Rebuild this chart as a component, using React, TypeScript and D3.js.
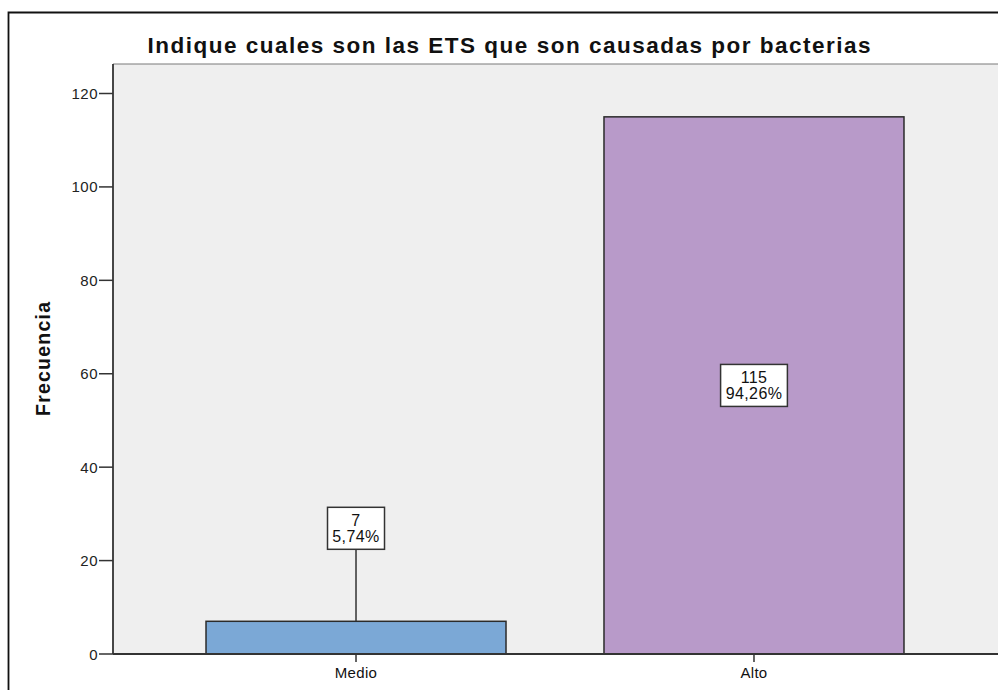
import React from "react";
import * as d3 from "d3";

const categories = ["Medio", "Alto"];
const frequencies = [7, 115];
const percentLabels = ["5,74%", "94,26%"];
const barColors = ["#7BA8D6", "#B89AC9"];
const yTicks = [0, 20, 40, 60, 80, 100, 120];
const titleText = "Indique cuales son las ETS que son causadas por bacterias";
const yAxisTitle = "Frecuencia";

const W = 998;
const H = 690;
const plotLeft = 113;
const plotRight = 997;
const plotTop = 64;
const plotBottom = 654;

export default function App() {
  const x = d3
    .scaleBand<string>()
    .domain(categories)
    .range([plotLeft, plotRight])
    .paddingInner(0.2462)
    .paddingOuter(0.2337);
  const y = d3.scaleLinear().domain([0, 120]).range([plotBottom, 93.5]);
  const font = "Arial, 'Liberation Sans', Helvetica, sans-serif";
  const axisColor = "#333333";

  return (
    <div style={{ position: "fixed", left: 0, top: 0, width: W, height: H, overflow: "hidden", background: "#fff" }}>
      <svg width={W} height={H} style={{ display: "block" }} fontFamily={font}>
        {/* outer frame (top and left visible) */}
        <path d={`M8.5,${H} V12.5 H${W}`} fill="none" stroke="#111" strokeWidth={1.8} />
        {/* title */}
        <text
          x={509}
          y={53}
          textAnchor="middle"
          fontSize={22.5}
          fontWeight="bold"
          fill="#111"
          textLength={723}
          lengthAdjust="spacing"
        >
          {titleText}
        </text>
        {/* plot background */}
        <rect x={plotLeft} y={plotTop} width={W - plotLeft} height={plotBottom - plotTop} fill="#EFEFEF" />
        <line x1={plotLeft} x2={W} y1={plotTop} y2={plotTop} stroke="#7a7a7a" strokeWidth={1.2} />
        {/* y axis title */}
        <text
          transform={`translate(50,359) rotate(-90)`}
          textAnchor="middle"
          fontSize={19.5}
          fontWeight="bold"
          fill="#111"
          textLength={114}
          lengthAdjust="spacing"
        >
          {yAxisTitle}
        </text>
        {/* y ticks */}
        {yTicks.map((t) => (
          <g key={t}>
            <line x1={99} x2={plotLeft} y1={y(t)} y2={y(t)} stroke={axisColor} strokeWidth={1.5} />
            <text x={98} y={y(t) + 5.5} textAnchor="end" fontSize={15} fill="#222" letterSpacing={0.5}>
              {t}
            </text>
          </g>
        ))}
        {/* bars */}
        {categories.map((c, i) => {
          const bx = x(c)!;
          const bw = x.bandwidth();
          const top = y(frequencies[i]);
          const cx = bx + bw / 2;
          const barH = plotBottom - top;
          const boxH = 42;
          const small = barH < boxH + 10;
          const cy = small ? top - 93 : (top + plotBottom) / 2;
          const boxW = Math.max(percentLabels[i].length, String(frequencies[i]).length) * 9.8 + 8;
          return (
            <g key={c}>
              <rect x={bx} y={top} width={bw} height={barH} fill={barColors[i]} stroke="#2b2b2b" strokeWidth={1.5} />
              {small && (
                <line x1={cx} x2={cx} y1={cy + boxH / 2} y2={top} stroke="#333" strokeWidth={1.5} />
              )}
              <rect
                x={cx - boxW / 2}
                y={cy - boxH / 2}
                width={boxW}
                height={boxH}
                fill="#fff"
                stroke="#333"
                strokeWidth={1.5}
              />
              <text x={cx} y={cy - 2} textAnchor="middle" fontSize={16} fill="#111" letterSpacing={0.4}>
                {frequencies[i]}
              </text>
              <text x={cx} y={cy + 14} textAnchor="middle" fontSize={16} fill="#111" letterSpacing={0.4}>
                {percentLabels[i]}
              </text>
              <line x1={cx} x2={cx} y1={plotBottom} y2={662} stroke={axisColor} strokeWidth={1.5} />
              <text x={cx} y={678} textAnchor="middle" fontSize={15} fill="#111" letterSpacing={0.3}>
                {c}
              </text>
            </g>
          );
        })}
        {/* axes */}
        <line x1={plotLeft} x2={plotLeft} y1={plotTop} y2={plotBottom} stroke={axisColor} strokeWidth={1.8} />
        <line x1={plotLeft} x2={W} y1={plotBottom} y2={plotBottom} stroke={axisColor} strokeWidth={1.8} />
      </svg>
    </div>
  );
}
